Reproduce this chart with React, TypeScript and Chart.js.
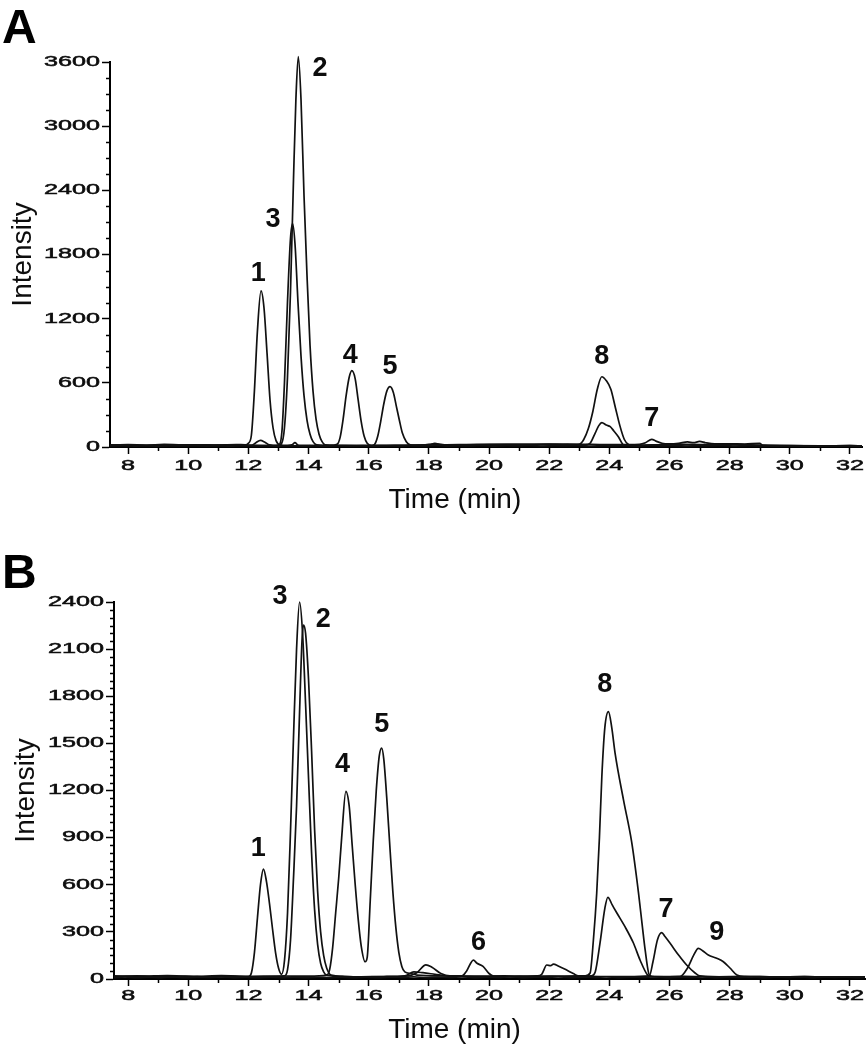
import React, { useEffect, useRef } from "react";
import { Chart, registerables } from "chart.js";

Chart.register(...registerables);

// ---------- axis ticks ----------
const xTickValues = [8, 10, 12, 14, 16, 18, 20, 22, 24, 26, 28, 30, 32];
const xTickLabels = ["8", "10", "12", "14", "16", "18", "20", "22", "24", "26", "28", "30", "32"];
const yTickValuesA = [0, 600, 1200, 1800, 2400, 3000, 3600];
const yTickLabelsA = ["0", "600", "1200", "1800", "2400", "3000", "3600"];
const yTickValuesB = [0, 300, 600, 900, 1200, 1500, 1800, 2100, 2400];
const yTickLabelsB = ["0", "300", "600", "900", "1200", "1500", "1800", "2100", "2400"];
const yMinorStepA = 150;
const yMinorStepB = 50;
const xMinorStep = 1;

// ---------- panel A traces: [time (min), intensity] ----------
const traceA1 = [
  [7.4, 18], [8.0, 22], [8.6, 16], [9.2, 24], [9.8, 19], [10.4, 21], [11.0, 17], [11.6, 23], [11.9, 20],
  [12.0, 35], [12.1, 110], [12.2, 520], [12.3, 1080], [12.42, 1460], [12.52, 1300], [12.62, 880], [12.72, 440],
  [12.82, 180], [12.92, 60], [13.05, 20], [13.3, 15], [13.45, 20], [13.55, 40], [13.65, 18], [13.8, 16],
  [14.2, 14], [14.7, 12], [14.95, 25], [15.05, 90], [15.15, 260], [15.25, 480], [15.35, 650], [15.44, 714],
  [15.55, 640], [15.65, 440], [15.75, 240], [15.85, 100], [15.95, 35], [16.1, 12], [16.6, 14], [17.2, 16],
  [18.0, 20], [19.0, 22], [20.0, 25], [21.0, 24], [22.0, 26], [22.6, 22], [23.0, 25], [23.15, 70], [23.3, 170],
  [23.45, 330], [23.6, 540], [23.75, 657], [23.9, 620], [24.05, 540], [24.2, 370], [24.35, 200], [24.5, 70],
  [24.65, 20], [24.8, 14], [25.4, 18], [26.2, 22], [27.0, 20], [28.0, 24], [29.0, 18], [30.0, 12], [31.0, 10],
  [32.0, 12], [32.4, 11],
];
const traceA2 = [
  [7.4, 12], [8.2, 15], [9.0, 11], [9.8, 14], [10.6, 12], [11.4, 15], [12.1, 15], [12.25, 40], [12.4, 62],
  [12.55, 45], [12.7, 20], [13.0, 15], [13.1, 30], [13.2, 180], [13.3, 650], [13.4, 1450], [13.5, 2500],
  [13.58, 3250], [13.66, 3650], [13.75, 3250], [13.85, 2350], [13.95, 1600], [14.05, 950], [14.15, 520],
  [14.25, 260], [14.35, 120], [14.45, 50], [14.55, 20], [15.0, 14], [15.6, 12], [16.1, 12], [16.2, 25],
  [16.3, 100], [16.4, 240], [16.5, 400], [16.6, 520], [16.71, 564], [16.82, 510], [16.92, 380], [17.02, 250],
  [17.12, 130], [17.25, 50], [17.4, 18], [18.0, 15], [18.2, 35], [18.4, 20], [19.2, 15], [20.2, 18],
  [21.2, 20], [22.2, 22], [23.2, 20], [23.36, 35], [23.53, 130], [23.65, 200], [23.75, 228], [23.9, 205],
  [24.03, 190], [24.15, 150], [24.3, 96], [24.45, 25], [24.6, 15], [25.5, 20], [26.5, 25], [27.5, 22],
  [28.5, 20], [29.2, 12], [30.4, 10], [31.5, 11], [32.4, 9],
];
const traceA3 = [
  [7.4, 20], [8.4, 16], [9.4, 21], [10.4, 15], [11.4, 19], [12.4, 16], [12.9, 12], [13.04, 25], [13.12, 160],
  [13.2, 600], [13.3, 1350], [13.4, 1950], [13.47, 2090], [13.55, 1900], [13.65, 1350], [13.75, 850],
  [13.85, 480], [13.95, 250], [14.05, 120], [14.15, 50], [14.27, 20], [14.8, 15], [15.8, 14], [16.8, 16],
  [17.8, 18], [18.2, 30], [18.6, 18], [19.6, 22], [20.6, 25], [21.6, 24], [22.6, 26], [23.4, 24], [24.2, 22],
  [25.0, 25], [25.2, 40], [25.41, 72], [25.55, 55], [25.75, 35], [26.0, 30], [26.3, 35], [26.6, 48],
  [26.8, 40], [27.0, 52], [27.2, 40], [27.5, 30], [28.0, 30], [28.5, 28], [29.0, 35], [29.1, 15], [30.0, 12],
  [31.0, 10], [32.0, 12], [32.4, 10],
];
const traceA4 = [
  [7.4, 10], [7.8, 14], [8.2, 9], [8.6, 13], [9.0, 8], [9.4, 12], [9.8, 10], [10.2, 14], [10.6, 9], [11.0, 12],
  [11.4, 8], [11.8, 13], [12.2, 10], [12.6, 12], [13.0, 8], [13.4, 11], [13.8, 9], [14.2, 12], [14.6, 8],
  [15.0, 11], [15.4, 9], [15.8, 12], [16.2, 8], [16.6, 11], [17.0, 9], [17.4, 12], [17.8, 10], [18.2, 14],
  [18.6, 9], [19.0, 12], [19.4, 10], [19.8, 13], [20.2, 9], [20.6, 12], [21.0, 10], [21.4, 13], [21.8, 9],
  [22.2, 12], [22.6, 10], [23.0, 13], [23.4, 9], [23.8, 12], [24.2, 10], [24.6, 13], [25.0, 9], [25.4, 14],
  [25.8, 10], [26.2, 13], [26.6, 9], [27.0, 12], [27.4, 10], [27.8, 13], [28.2, 9], [28.6, 12], [29.0, 10],
  [29.4, 8], [29.8, 10], [30.2, 7], [30.6, 9], [31.0, 7], [31.4, 9], [31.8, 7], [32.2, 8], [32.4, 7],
];

// ---------- panel B traces ----------
const traceB1 = [
  [7.53, 16], [8.3, 20], [9.1, 14], [9.9, 19], [10.7, 15], [11.5, 18], [12.0, 15], [12.1, 40], [12.2, 170],
  [12.3, 390], [12.4, 600], [12.5, 700], [12.6, 620], [12.7, 480], [12.8, 320], [12.9, 170], [13.0, 70],
  [13.1, 30], [13.2, 120], [13.3, 420], [13.4, 950], [13.5, 1550], [13.6, 2100], [13.7, 2400], [13.8, 2200],
  [13.9, 1750], [14.0, 1270], [14.1, 800], [14.2, 440], [14.3, 220], [14.4, 100], [14.5, 45], [14.6, 25],
  [15.2, 16], [16.0, 14], [16.8, 15], [17.3, 20], [17.6, 40], [17.9, 90], [18.1, 75], [18.4, 35], [18.7, 20],
  [19.1, 20], [19.25, 50], [19.48, 120], [19.6, 100], [19.8, 80], [20.0, 35], [20.15, 18], [21.0, 15],
  [22.0, 17], [23.0, 15], [23.4, 20], [23.53, 45], [23.69, 230], [23.85, 450], [23.95, 520], [24.1, 470],
  [24.25, 420], [24.52, 333], [24.8, 229], [25.02, 121], [25.27, 25], [25.4, 15], [26.0, 14], [26.35, 15],
  [26.6, 70], [26.8, 150], [26.96, 195], [27.1, 180], [27.29, 153], [27.57, 132], [27.79, 110], [28.01, 70],
  [28.24, 25], [28.5, 15], [29.5, 13], [30.5, 15], [31.5, 12], [32.5, 14],
];
const traceB2 = [
  [7.53, 12], [8.5, 15], [9.5, 11], [10.5, 14], [11.5, 12], [12.5, 14], [13.2, 20], [13.3, 60], [13.4, 250],
  [13.5, 650], [13.6, 1100], [13.7, 1700], [13.78, 2150], [13.83, 2253], [13.9, 2200], [14.0, 1900],
  [14.1, 1450], [14.2, 950], [14.3, 560], [14.4, 300], [14.5, 150], [14.6, 70], [14.75, 25], [15.5, 14],
  [16.5, 16], [17.2, 20], [17.5, 45], [17.8, 40], [18.2, 30], [18.6, 20], [19.5, 16], [20.5, 15], [21.6, 20],
  [21.75, 30], [21.92, 89], [22.05, 85], [22.14, 95], [22.3, 83], [22.58, 57], [22.8, 35], [22.97, 20],
  [23.8, 16], [24.6, 15], [25.33, 20], [25.45, 110], [25.6, 250], [25.74, 295], [25.85, 270], [26.02, 227],
  [26.3, 153], [26.57, 89], [26.85, 38], [27.0, 20], [28.0, 14], [29.0, 15], [30.0, 12], [31.0, 14],
  [32.0, 12], [32.5, 13],
];
const traceB3 = [
  [7.53, 20], [8.4, 17], [9.3, 22], [10.2, 16], [11.1, 21], [12.0, 17], [13.0, 19], [14.0, 18], [14.6, 25],
  [14.7, 60], [14.8, 200], [14.9, 420], [15.0, 640], [15.1, 900], [15.24, 1195], [15.35, 1100], [15.45, 850],
  [15.55, 600], [15.65, 380], [15.75, 210], [15.88, 110], [15.95, 140], [16.05, 500], [16.15, 880],
  [16.25, 1200], [16.35, 1420], [16.43, 1470], [16.5, 1400], [16.6, 1150], [16.7, 850], [16.8, 560],
  [16.9, 330], [17.0, 170], [17.1, 80], [17.2, 45], [17.4, 35], [17.6, 25], [18.5, 20], [19.5, 18],
  [20.5, 20], [21.5, 17], [22.5, 19], [23.2, 20], [23.36, 38], [23.47, 250], [23.58, 547], [23.67, 900],
  [23.75, 1288], [23.85, 1600], [23.97, 1702], [24.08, 1600], [24.19, 1438], [24.47, 1140], [24.74, 874],
  [24.97, 547], [25.1, 330], [25.19, 185], [25.33, 25], [25.5, 15], [26.5, 17], [27.5, 14], [28.5, 16],
  [29.5, 13], [30.5, 15], [31.5, 12], [32.5, 14],
];
const traceB4 = [
  [7.53, 9], [7.9, 13], [8.3, 8], [8.7, 12], [9.1, 9], [9.5, 13], [9.9, 8], [10.3, 12], [10.7, 10], [11.1, 14],
  [11.5, 9], [11.9, 12], [12.3, 8], [12.7, 11], [13.1, 9], [13.5, 12], [13.9, 8], [14.3, 11], [14.7, 9],
  [15.1, 12], [15.5, 8], [15.9, 11], [16.3, 9], [16.7, 12], [17.1, 10], [17.5, 13], [17.9, 9], [18.3, 12],
  [18.7, 10], [19.1, 13], [19.5, 9], [19.9, 12], [20.3, 10], [20.7, 13], [21.1, 9], [21.5, 12], [21.9, 10],
  [22.3, 13], [22.7, 9], [23.1, 12], [23.5, 10], [23.9, 13], [24.3, 9], [24.7, 12], [25.1, 10], [25.5, 13],
  [25.9, 9], [26.3, 12], [26.7, 10], [27.1, 13], [27.5, 9], [27.9, 12], [28.3, 10], [28.7, 13], [29.1, 9],
  [29.5, 12], [29.9, 10], [30.3, 13], [30.7, 9], [31.1, 12], [31.5, 10], [31.9, 12], [32.3, 9], [32.5, 10],
];

// ---------- peak labels (anchored in data coordinates) ----------
const peakLabelsA = ["1", "3", "2", "4", "5", "8", "7"];
const peakLabelTimesA = [12.33, 12.82, 14.38, 15.39, 16.71, 23.75, 25.41];
const peakLabelIntA = [1646, 2146, 3556, 876, 776, 870, 283];

const peakLabelsB = ["3", "2", "4", "5", "1", "6", "8", "7", "9"];
const peakLabelTimesB = [13.05, 14.49, 15.13, 16.43, 12.33, 19.65, 23.85, 25.88, 27.57];
const peakLabelIntB = [2451, 2301, 1378, 1633, 847, 243, 1890, 455, 312];

const FONT = '"Liberation Sans", Arial, sans-serif';
const INK = "#0d0d0d";

type PanelCfg = {
  letter: string;
  letterBaseline: number;
  yTicks: number[];
  yLabels: string[];
  yMinorStep: number;
  yLabelGap: number;
  xLabelOffset: number;
  peakLabels: string[];
  peakTimes: number[];
  peakInts: number[];
};

function makePlugin(cfg: PanelCfg) {
  return {
    id: "panelDecor" + cfg.letter,
    afterDraw(chart: any) {
      const { ctx, chartArea } = chart;
      const xs = chart.scales.x;
      const ys = chart.scales.y;
      ctx.save();
      // minor ticks
      ctx.strokeStyle = "#000";
      ctx.lineWidth = 1.5;
      ctx.beginPath();
      for (let v = 0; v <= ys.max + 1e-6; v += cfg.yMinorStep) {
        if (cfg.yTicks.includes(v)) continue;
        const py = Math.round(ys.getPixelForValue(v)) + 0.5;
        ctx.moveTo(chartArea.left - 4, py);
        ctx.lineTo(chartArea.left, py);
      }
      for (let v = Math.ceil(xs.min); v <= xs.max; v += xMinorStep) {
        if (xTickValues.includes(v)) continue;
        const px = Math.round(xs.getPixelForValue(v)) + 0.5;
        ctx.moveTo(px, chartArea.bottom);
        ctx.lineTo(px, chartArea.bottom + 4);
      }
      ctx.stroke();

      // tick labels (wide lettering)
      ctx.fillStyle = INK;
      ctx.strokeStyle = INK;
      ctx.lineWidth = 0.5;
      ctx.font = `14px ${FONT}`;
      ctx.textBaseline = "middle";
      cfg.yTicks.forEach((v, i) => {
        const py = ys.getPixelForValue(v);
        ctx.save();
        ctx.translate(chartArea.left - cfg.yLabelGap, py);
        ctx.scale(1.8, 1);
        ctx.textAlign = "right";
        ctx.fillText(cfg.yLabels[i], 0, 0);
        ctx.strokeText(cfg.yLabels[i], 0, 0);
        ctx.restore();
      });
      xTickValues.forEach((v, i) => {
        const px = xs.getPixelForValue(v);
        ctx.save();
        ctx.translate(px, chartArea.bottom + cfg.xLabelOffset);
        ctx.scale(1.8, 1);
        ctx.textAlign = "center";
        ctx.fillText(xTickLabels[i], 0, 0);
        ctx.strokeText(xTickLabels[i], 0, 0);
        ctx.restore();
      });

      // peak labels
      const size = 27;
      ctx.font = `bold ${size}px ${FONT}`;
      ctx.textAlign = "center";
      ctx.textBaseline = "alphabetic";
      cfg.peakLabels.forEach((t, i) => {
        const px = xs.getPixelForValue(cfg.peakTimes[i]);
        const py = ys.getPixelForValue(cfg.peakInts[i]);
        ctx.fillText(t, px, py + size * 0.358);
      });

      // panel letter
      ctx.font = `bold 48px ${FONT}`;
      ctx.textAlign = "left";
      ctx.fillStyle = "#000";
      ctx.fillText(cfg.letter, 2, cfg.letterBaseline);
      ctx.restore();
    },
  };
}

function toPoints(trace: number[][]) {
  return trace.map(([x, y]) => ({ x, y }));
}

function buildConfig(opts: {
  traces: number[][][];
  xMin: number;
  xMax: number;
  yMax: number;
  yTicks: number[];
  yWidth: number;
  xHeight: number;
  padTop: number;
  padRight: number;
  yTitlePad: number;
  xTitlePad: number;
  xTitle: string;
  plugin: any;
}) {
  const gridBase = {
    display: true,
    drawOnChartArea: false,
    drawTicks: true,
    tickColor: "#000",
    tickWidth: 1.5,
  };
  return {
    type: "line" as const,
    data: {
      datasets: opts.traces.map((tr, i) => ({
        label: "trace " + (i + 1),
        data: toPoints(tr),
        borderColor: "#111111",
        borderWidth: 1.7,
        pointRadius: 0,
        fill: false,
        cubicInterpolationMode: "monotone" as const,
        clip: false as const,
      })),
    },
    options: {
      responsive: false,
      animation: false as const,
      events: [],
      layout: { padding: { left: 0, right: opts.padRight, top: opts.padTop, bottom: 0 } },
      plugins: { legend: { display: false }, tooltip: { enabled: false } },
      scales: {
        x: {
          type: "linear" as const,
          position: "bottom" as const,
          min: opts.xMin,
          max: opts.xMax,
          afterBuildTicks: (axis: any) => {
            axis.ticks = xTickValues.map((v) => ({ value: v }));
          },
          afterFit: (axis: any) => {
            axis.height = opts.xHeight;
          },
          ticks: { display: false },
          grid: { ...gridBase, tickLength: 7 },
          border: { display: true, color: "#000", width: 2 },
          title: {
            display: true,
            text: opts.xTitle,
            color: INK,
            font: { family: FONT, size: 28 },
            padding: { top: 0, bottom: opts.xTitlePad },
          },
        },
        y: {
          type: "linear" as const,
          position: "left" as const,
          min: 0,
          max: opts.yMax,
          afterBuildTicks: (axis: any) => {
            axis.ticks = opts.yTicks.map((v) => ({ value: v }));
          },
          afterFit: (axis: any) => {
            axis.width = opts.yWidth;
          },
          ticks: { display: false },
          grid: { ...gridBase, tickLength: 8 },
          border: { display: true, color: "#000", width: 2 },
          title: {
            display: true,
            text: "Intensity",
            color: INK,
            font: { family: FONT, size: 28 },
            padding: { top: opts.yTitlePad, bottom: 0 },
          },
        },
      },
    },
    plugins: [opts.plugin],
  };
}

export default function App() {
  const refA = useRef<HTMLCanvasElement | null>(null);
  const refB = useRef<HTMLCanvasElement | null>(null);

  useEffect(() => {
    const pluginA = makePlugin({
      letter: "A",
      letterBaseline: 43,
      yTicks: yTickValuesA,
      yLabels: yTickLabelsA,
      yMinorStep: yMinorStepA,
      yLabelGap: 10,
      xLabelOffset: 19,
      peakLabels: peakLabelsA,
      peakTimes: peakLabelTimesA,
      peakInts: peakLabelIntA,
    });
    const pluginB = makePlugin({
      letter: "B",
      letterBaseline: 63,
      yTicks: yTickValuesB,
      yLabels: yTickLabelsB,
      yMinorStep: yMinorStepB,
      yLabelGap: 10,
      xLabelOffset: 17,
      peakLabels: peakLabelsB,
      peakTimes: peakLabelTimesB,
      peakInts: peakLabelIntB,
    });
    const chartA = new Chart(
      refA.current as HTMLCanvasElement,
      buildConfig({
        traces: [traceA4, traceA1, traceA2, traceA3],
        xMin: 7.4,
        xMax: 32.4,
        yMax: 3600,
        yTicks: yTickValuesA,
        yWidth: 110,
        xHeight: 78,
        padTop: 62,
        padRight: 6,
        yTitlePad: 6,
        xTitlePad: 8,
        xTitle: "Time (min)        ",
        plugin: pluginA,
      }) as any
    );
    const chartB = new Chart(
      refB.current as HTMLCanvasElement,
      buildConfig({
        traces: [traceB4, traceB1, traceB2, traceB3],
        xMin: 7.53,
        xMax: 32.5,
        yMax: 2400,
        yTicks: yTickValuesB,
        yWidth: 114,
        xHeight: 71,
        padTop: 77,
        padRight: 3,
        yTitlePad: 9,
        xTitlePad: 3,
        xTitle: "Time (min)         ",
        plugin: pluginB,
      }) as any
    );
    return () => {
      chartA.destroy();
      chartB.destroy();
    };
  }, []);

  return (
    <div style={{ position: "absolute", left: 0, top: 0, width: 868, height: 1050, background: "#fff" }}>
      <canvas ref={refA} width={868} height={525} style={{ position: "absolute", left: 0, top: 0 }} />
      <canvas ref={refB} width={868} height={525} style={{ position: "absolute", left: 0, top: 525 }} />
    </div>
  );
}
